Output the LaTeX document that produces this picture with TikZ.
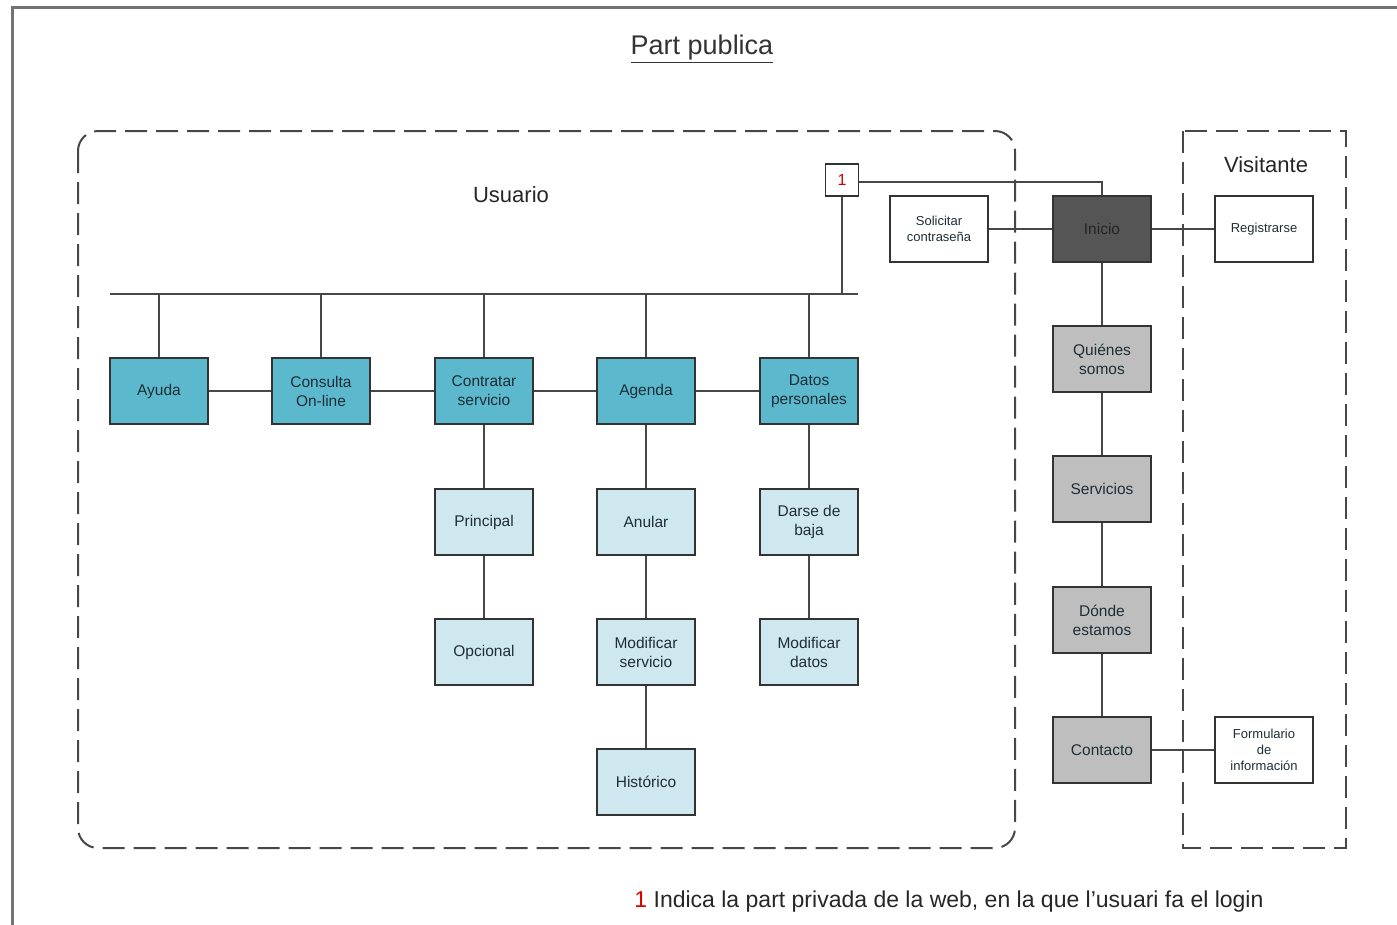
\documentclass[tikz,border=0pt]{standalone}
\usepackage{fontspec}
\setmainfont{Liberation Sans}
\usetikzlibrary{positioning}
\definecolor{bluebox}{HTML}{5CB8CC}
\definecolor{lightbox}{HTML}{CFE8EF}
\definecolor{darkbox}{HTML}{555555}
\definecolor{greybox}{HTML}{BEBEBE}
\definecolor{linecol}{HTML}{333333}
\definecolor{textcol}{HTML}{1E2E36}
\newcommand{\boxfont}{\fontsize{15.5}{19}\selectfont}
\newcommand{\smallfont}{\fontsize{13}{16}\selectfont}
\begin{document}
\begin{tikzpicture}[x=1pt, y=-1pt,
  page/.style={draw=black!55, line width=3pt},
  region/.style={draw=linecol!90, line width=2pt, dash pattern=on 22pt off 9pt},
  card/.style={draw=linecol, line width=2pt, minimum width=98pt, minimum height=66pt, inner sep=1pt, align=center, text=textcol, font=\boxfont},
  mainpage/.style={card, fill=bluebox},
  subpage/.style={card, fill=lightbox},
  pubpage/.style={card, fill=greybox},
  homepage/.style={card, fill=darkbox, text=black!85},
  extpage/.style={card, fill=white, font=\smallfont},
  link/.style={draw=linecol!90, line width=1.7pt}]

\useasboundingbox (0,0) rectangle (1397,924);

% Page frame
\draw[page] (12,935) -- (12,7) -- (1405,7);

% Title
\node (title) at (702,49) {\fontsize{27}{30}\selectfont\color{black!80}\underline{Part publica}};

% Regions
\draw[region, rounded corners=20pt] (78,131) rectangle (1015,848);
\draw[region] (1183,131) rectangle (1346,848);
\node (usuario) at (511,195) {\fontsize{22}{24}\selectfont\color{black!85}Usuario};
\node (visitante) at (1266,165) {\fontsize{22}{24}\selectfont\color{black!85}Visitante};

% Private area (top row)
\node (ayuda) at (159,391) [mainpage] {Ayuda};
\node (consulta) at (321,391) [mainpage] {Consulta\\On-line};
\node (contratar) at (484,391) [mainpage] {Contratar\\servicio};
\node (agenda) at (646,391) [mainpage] {Agenda};
\node (datos) at (809,391) [mainpage] {Datos\\personales};

% Private area (sub pages)
\node (principal) at (484,522) [subpage] {Principal};
\node (opcional) at (484,652) [subpage] {Opcional};
\node (anular) at (646,522) [subpage] {Anular};
\node (modserv) at (646,652) [subpage] {Modificar\\servicio};
\node (historico) at (646,782) [subpage] {Histórico};
\node (baja) at (809,522) [subpage] {Darse de\\baja};
\node (moddatos) at (809,652) [subpage] {Modificar\\datos};

% Login mark
\node (login) at (842,180) [draw=linecol, line width=1.5pt, fill=white, minimum width=33pt, minimum height=32pt, inner sep=0pt, font=\fontsize{16}{18}\selectfont, text=red!80!black] {1};
\coordinate (busL) at (110,294);
\coordinate (busR) at (858,294);

% Public area
\node (inicio) at (1102,229) [homepage] {Inicio};
\node (quienes) at (1102,359) [pubpage] {Quiénes\\somos};
\node (servicios) at (1102,489) [pubpage] {Servicios};
\node (donde) at (1102,620) [pubpage] {Dónde\\estamos};
\node (contacto) at (1102,750) [pubpage] {Contacto};
\node (solicitar) at (939,229) [extpage] {Solicitar\\contraseña};
\node (registro) at (1264,229) [extpage] {Registrarse};
\node (formulario) at (1264,750) [extpage] {Formulario\\de\\información};

% Bus of the private area
\draw[link] (busL) -- (busR);
\draw[link] (login) -- (login |- busR);
\draw[link] (ayuda) -- (ayuda |- busL);
\draw[link] (consulta) -- (consulta |- busL);
\draw[link] (contratar) -- (contratar |- busL);
\draw[link] (agenda) -- (agenda |- busL);
\draw[link] (datos) -- (datos |- busL);

% Horizontal links
\draw[link] (ayuda) -- (consulta);
\draw[link] (consulta) -- (contratar);
\draw[link] (contratar) -- (agenda);
\draw[link] (agenda) -- (datos);

% Vertical links
\draw[link] (contratar) -- (principal);
\draw[link] (principal) -- (opcional);
\draw[link] (agenda) -- (anular);
\draw[link] (anular) -- (modserv);
\draw[link] (modserv) -- (historico);
\draw[link] (datos) -- (baja);
\draw[link] (baja) -- (moddatos);

% Public links
\draw[link] ([yshift=-2pt]login.east) -| (inicio.north);
\draw[link] (solicitar) -- (inicio);
\draw[link] (inicio) -- (registro);
\draw[link] (inicio) -- (quienes);
\draw[link] (quienes) -- (servicios);
\draw[link] (servicios) -- (donde);
\draw[link] (donde) -- (contacto);
\draw[link] (contacto) -- (formulario);

% Note
\node (nota) at (949,902) {\fontsize{23}{25}\selectfont\color{black!85}{\color{red!85!black}1} Indica la part privada de la web, en la que l’usuari fa el login};

\end{tikzpicture}
\end{document}
